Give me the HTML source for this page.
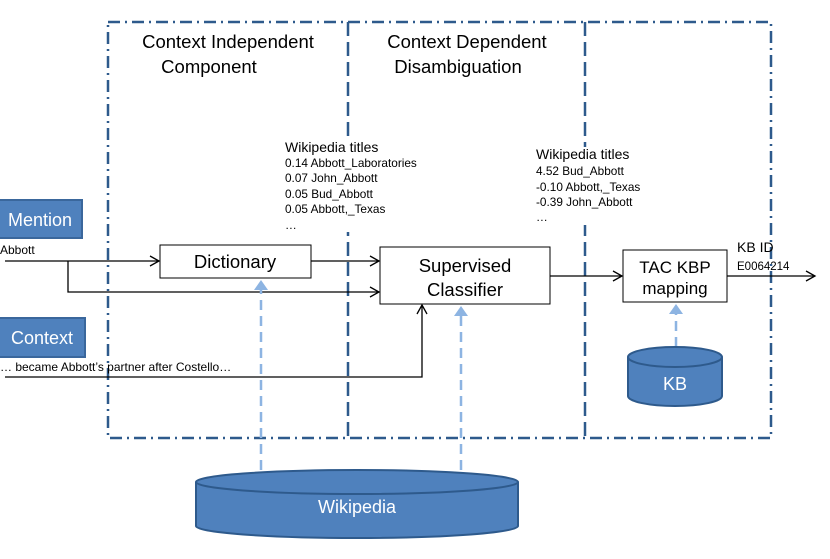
<!DOCTYPE html>
<html><head><style>
body{margin:0;background:#fff}
svg text{font-family:"Liberation Sans",sans-serif}
</style></head><body>
<svg width="830" height="554" viewBox="0 0 830 554" xmlns="http://www.w3.org/2000/svg">
<defs>
<marker id="a" markerWidth="12" markerHeight="12" refX="10" refY="6" orient="auto" markerUnits="userSpaceOnUse"><path d="M1,1 L10,6 L1,11" fill="none" stroke="#000" stroke-width="1.3"/></marker>
</defs>
<rect x="108" y="22" width="663" height="416" fill="none" stroke="#2e5a8c" stroke-width="2.5" stroke-dasharray="12,5,2,5"/>
<line x1="348" y1="22" x2="348" y2="438" stroke="#2e5a8c" stroke-width="2.5" stroke-dasharray="14,6"/>
<line x1="585" y1="22" x2="585" y2="438" stroke="#2e5a8c" stroke-width="2.5" stroke-dasharray="14,6"/>
<g font-size="18.5" text-anchor="middle" fill="#000">
<text x="228" y="48">Context Independent</text><text x="209" y="73">Component</text>
<text x="467" y="48">Context Dependent</text><text x="458" y="73">Disambiguation</text>
</g>
<g fill="#fff">
<rect x="284" y="140" width="136" height="92"/>
<rect x="535" y="147" width="110" height="78"/>
</g>
<text x="285" y="152" font-size="14">Wikipedia titles</text>
<g font-size="11.8" fill="#000">
<text x="285" y="167">0.14 Abbott_Laboratories</text>
<text x="285" y="182">0.07 John_Abbott</text>
<text x="285" y="198">0.05 Bud_Abbott</text>
<text x="285" y="213">0.05 Abbott,_Texas</text>
<text x="285" y="229">…</text>
</g>
<text x="536" y="159" font-size="14">Wikipedia titles</text>
<g font-size="11.8">
<text x="536" y="175">4.52 Bud_Abbott</text>
<text x="536" y="191">-0.10 Abbott,_Texas</text>
<text x="536" y="206">-0.39 John_Abbott</text>
<text x="536" y="221">…</text>
</g>
<rect x="-2" y="200" width="84" height="38" fill="#4f81bd" stroke="#3a679c" stroke-width="2"/>
<text x="40" y="226" font-size="18" fill="#fff" text-anchor="middle">Mention</text>
<rect x="-2" y="318" width="87" height="39" fill="#4f81bd" stroke="#3a679c" stroke-width="2"/>
<text x="42" y="344" font-size="18" fill="#fff" text-anchor="middle">Context</text>
<text x="0" y="254" font-size="12">Abbott</text>
<text x="0" y="371" font-size="12">… became Abbott’s partner after Costello…</text>
<g stroke="#000" stroke-width="1.3" fill="none">
<line x1="5" y1="261" x2="159" y2="261" marker-end="url(#a)"/>
<polyline points="68,261 68,292 379,292" marker-end="url(#a)"/>
<line x1="311" y1="261" x2="379" y2="261" marker-end="url(#a)"/>
<polyline points="5,377 422,377 422,305" marker-end="url(#a)"/>
<line x1="550" y1="276" x2="622" y2="276" marker-end="url(#a)"/>
<line x1="727" y1="276" x2="815" y2="276" marker-end="url(#a)"/>
</g>
<rect x="160" y="245" width="151" height="33" fill="#fff" stroke="#000" stroke-width="1"/>
<text x="235" y="268" font-size="18.5" text-anchor="middle">Dictionary</text>
<rect x="380" y="247" width="170" height="57" fill="#fff" stroke="#000" stroke-width="1"/>
<text x="465" y="272" font-size="18.5" text-anchor="middle">Supervised</text>
<text x="465" y="296" font-size="18.5" text-anchor="middle">Classifier</text>
<rect x="623" y="250" width="104" height="52" fill="#fff" stroke="#000" stroke-width="1"/>
<text x="675" y="273" font-size="17" text-anchor="middle">TAC KBP</text>
<text x="675" y="294" font-size="17" text-anchor="middle">mapping</text>
<text x="737" y="252" font-size="14">KB ID</text>
<text x="737" y="270" font-size="11.5">E0064214</text>
<g stroke="#8db4e2" stroke-width="2.5" stroke-dasharray="10,6">
<line x1="261" y1="470" x2="261" y2="290"/>
<line x1="461" y1="470" x2="461" y2="316"/>
<line x1="676" y1="347" x2="676" y2="314"/>
</g>
<g fill="#8db4e2">
<path d="M254,290 L261,280 L268,290Z"/>
<path d="M454,316 L461,306 L468,316Z"/>
<path d="M669,314 L676,304 L683,314Z"/>
</g>
<path d="M628,357 L628,396 A47,10 0 0 0 722,396 L722,357" fill="#4f81bd" stroke="#2e5a8c" stroke-width="2"/>
<ellipse cx="675" cy="357" rx="47" ry="10" fill="#4f81bd" stroke="#2e5a8c" stroke-width="2"/>
<text x="675" y="390" font-size="18" fill="#fff" text-anchor="middle">KB</text>
<path d="M196,482 L196,526 A161,12 0 0 0 518,526 L518,482" fill="#4f81bd" stroke="#2e5a8c" stroke-width="2"/>
<ellipse cx="357" cy="482" rx="161" ry="12" fill="#4f81bd" stroke="#2e5a8c" stroke-width="2"/>
<text x="357" y="513" font-size="18" fill="#fff" text-anchor="middle">Wikipedia</text>
</svg>
</body></html>
